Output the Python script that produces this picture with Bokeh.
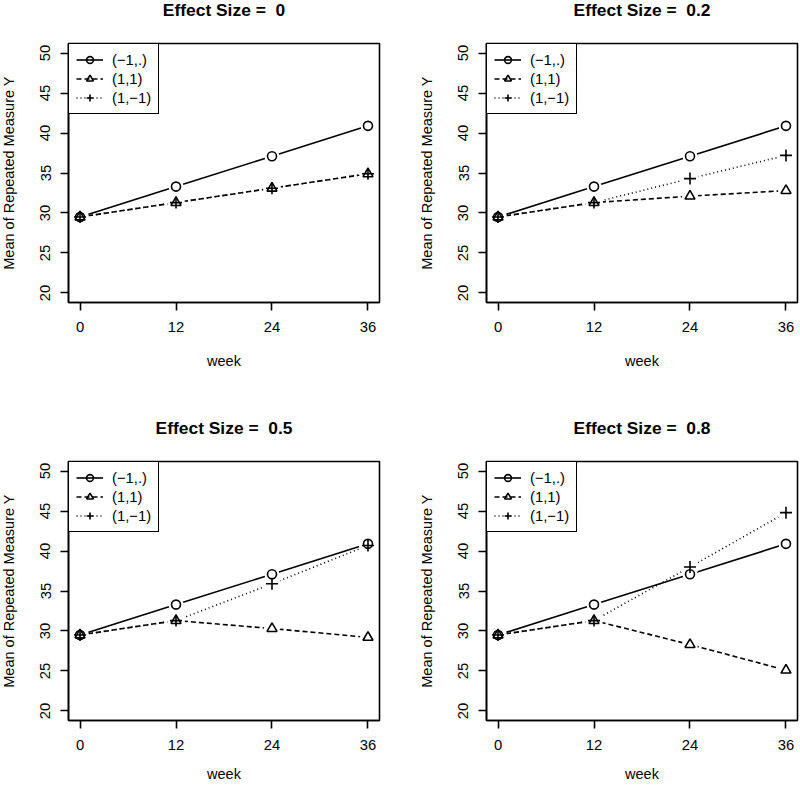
import math
from bokeh.plotting import figure
from bokeh.layouts import gridplot
from bokeh.models import FixedTicker, Legend, LegendItem, Range1d
from bokeh.embed import file_html
from bokeh.resources import INLINE

# ---- data ----
weeks = [0, 12, 24, 36]
y_ticks = [20, 25, 30, 35, 40, 45, 50]
labels = ["(\u22121,.)", "(1,1)", "(1,\u22121)"]
titles = ["Effect Size = \u00a00", "Effect Size = \u00a00.2", "Effect Size = \u00a00.5", "Effect Size = \u00a00.8"]

ctrl_es0 = [29.5, 33.3, 37.1, 40.9]
pos_es0 = [29.5, 31.3, 33.1, 34.9]
neg_es0 = [29.5, 31.3, 33.1, 34.9]

ctrl_es2 = [29.5, 33.3, 37.1, 40.9]
pos_es2 = [29.5, 31.3, 32.1, 32.8]
neg_es2 = [29.5, 31.3, 34.3, 37.2]

ctrl_es5 = [29.5, 33.3, 37.1, 40.9]
pos_es5 = [29.5, 31.3, 30.3, 29.2]
neg_es5 = [29.5, 31.3, 35.9, 40.7]

ctrl_es8 = [29.5, 33.3, 37.1, 40.9]
pos_es8 = [29.5, 31.3, 28.3, 25.1]
neg_es8 = [29.5, 31.3, 38.0, 44.8]

FONT = "Liberation Sans"
LW = 1.6


def make_panel(title, series, w, h, bl, br, bt, bb, x_lab_standoff):
    p = figure(width=w, height=h, x_range=Range1d(-1.44, 37.44), y_range=Range1d(18.8, 51.2),
               output_backend="svg", toolbar_location=None, title=title,
               min_border_left=bl, min_border_right=br, min_border_top=bt, min_border_bottom=bb)
    p.grid.visible = False
    p.outline_line_color = "black"
    p.outline_line_width = LW
    p.outline_line_alpha = 1.0
    p.background_fill_color = "white"
    p.border_fill_color = "white"

    p.xaxis.ticker = FixedTicker(ticks=weeks)
    p.yaxis.ticker = FixedTicker(ticks=y_ticks)
    for ax in (p.xaxis[0], p.yaxis[0]):
        ax.major_tick_in = 0
        ax.major_tick_out = 8
        ax.minor_tick_in = 0
        ax.minor_tick_out = 0
        ax.axis_line_color = "black"
        ax.axis_line_width = LW
        ax.major_tick_line_color = "black"
        ax.major_tick_line_width = LW
        ax.major_label_text_font = FONT
        ax.major_label_text_font_size = "14.8px"
        ax.major_label_text_color = "black"
        ax.axis_label_text_font = FONT
        ax.axis_label_text_font_size = "14.5px"
        ax.axis_label_text_font_style = "normal"
        ax.axis_label_text_color = "black"
    p.xaxis.axis_label = "week"
    p.yaxis.axis_label = "Mean of Repeated Measure Y"
    p.yaxis.major_label_orientation = "vertical"
    p.xaxis.major_label_standoff = 11
    p.xaxis.axis_label_standoff = x_lab_standoff
    p.yaxis.major_label_standoff = 10
    p.yaxis.axis_label_standoff = 21

    p.title.align = "center"
    p.title.vertical_align = "top"
    p.title.text_font = FONT
    p.title.text_font_size = "17.4px"
    p.title.text_font_style = "bold"
    p.title.text_color = "black"
    p.title.standoff = 43

    dashes = ["solid", "5 3", "1 3"]
    markers = ["circle", "triangle", "cross"]
    sizes = [9, 10, 12]
    line_rs = []
    for ys, dash in zip(series, dashes):
        line_rs.append(p.line(weeks, ys, line_dash=dash, line_width=LW, line_color="black"))
    for ys, sz in zip(series, sizes):
        p.scatter(weeks, ys, marker="circle", size=sz + 6, fill_color="white",
                  line_color=None)
    mark_rs = []
    for ys, mk, sz in zip(series, markers, sizes):
        mark_rs.append(p.scatter(weeks, ys, marker=mk, size=sz, fill_color=None,
                                 line_color="black", line_width=LW))

    items = [LegendItem(label=lab, renderers=[lr, mr]) for lab, lr, mr in zip(labels, line_rs, mark_rs)]
    leg = Legend(items=items, location="top_left", margin=0, padding=7, spacing=2,
                 label_height=17, glyph_height=17, glyph_width=27, label_standoff=9,
                 label_text_font=FONT, label_text_font_size="14.8px", label_text_color="black",
                 border_line_color="black", border_line_width=LW, border_line_alpha=1.0,
                 background_fill_color="white", background_fill_alpha=1.0)
    p.add_layout(leg)
    return p


p1 = make_panel(titles[0], [ctrl_es0, pos_es0, neg_es0], 418, 418, 72, 35, 65, 94, 18)
p2 = make_panel(titles[1], [ctrl_es2, pos_es2, neg_es2], 386, 418, 72, 3, 65, 94, 18)
p3 = make_panel(titles[2], [ctrl_es5, pos_es5, neg_es5], 418, 390, 72, 35, 65, 66, 13)
p4 = make_panel(titles[3], [ctrl_es8, pos_es8, neg_es8], 386, 390, 72, 3, 65, 66, 13)

grid = gridplot([[p1, p2], [p3, p4]], toolbar_location=None)
grid.styles = {"position": "absolute", "left": "-4px", "top": "-22px"}

open("out.html", "w").write(file_html(grid, INLINE))
